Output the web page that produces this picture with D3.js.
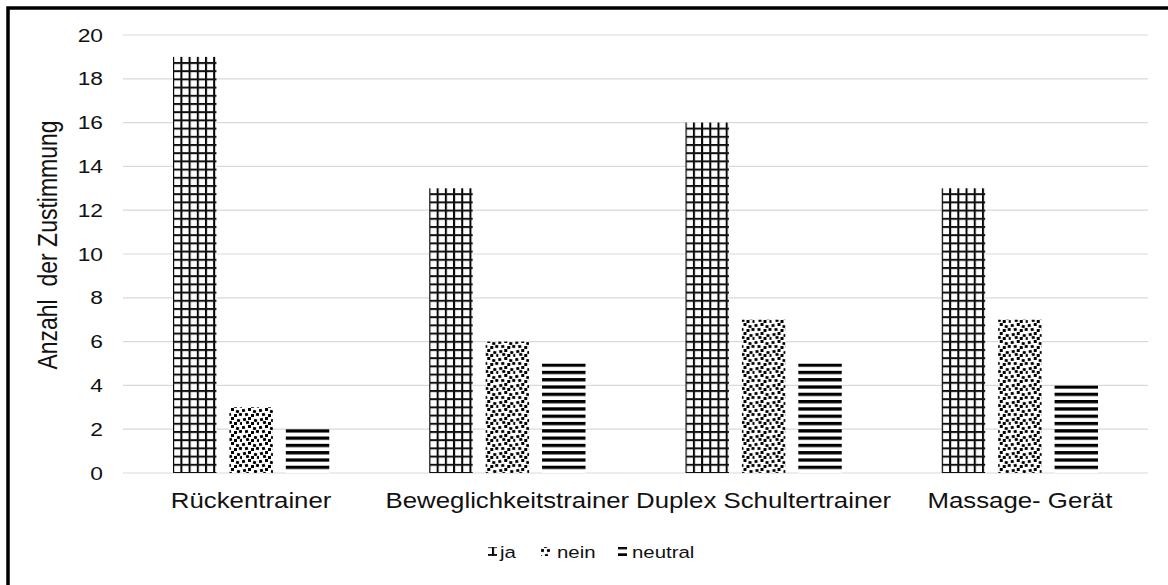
<!DOCTYPE html>
<html>
<head>
<meta charset="utf-8">
<script src="https://cdn.jsdelivr.net/npm/d3@7"></script>
<style>
  body { margin: 0; background: #fff; }
  text { font-family: "Liberation Sans", Arial, sans-serif; fill: #111; }
</style>
</head>
<body>
<svg id="chart" width="1168" height="585"></svg>
<script>
// chart data
const categories = ['Rückentrainer', 'Beweglichkeitstrainer', 'Duplex Schultertrainer', 'Massage- Gerät']
const series = ['ja', 'nein', 'neutral']
const ja = [19, 13, 16, 13]
const nein = [3, 6, 7, 7]
const neutral = [2, 5, 5, 4]
const yTicks = [0, 2, 4, 6, 8, 10, 12, 14, 16, 18, 20]

const values = { ja: ja, nein: nein, neutral: neutral }

const width = 1168
const height = 585
const margin = { top: 35, right: 20, bottom: 112, left: 123 }
const stretch = 'scale(1.2,1)'   // text in the shot is a little wide

const svg = d3.select('#chart')

// frame (only left and top edges are visible)
svg.append('path')
  .attr('d', 'M8,585 V8 H1168')
  .attr('fill', 'none')
  .attr('stroke', '#000')
  .attr('stroke-width', 3.5)

const x0 = d3.scaleBand()
  .domain(categories)
  .range([margin.left, width - margin.right])

const x1 = d3.scaleBand()
  .domain(series)
  .range([50, x0.bandwidth() - 50])
  .paddingInner(0.23)

const y = d3.scaleLinear()
  .domain([0, 20])
  .range([height - margin.bottom, margin.top])

const defs = svg.append('defs')

// grid pattern for "ja"
const pGrid = defs.append('pattern')
  .attr('id', 'p-ja')
  .attr('patternUnits', 'userSpaceOnUse')
  .attr('width', 8.2).attr('height', 8.2)
  .attr('y', y(0) - 1)
pGrid.append('rect').attr('width', 8.2).attr('height', 8.2).attr('fill', '#fff')
pGrid.append('rect').attr('x', 0).attr('width', 2).attr('height', 8.2).attr('fill', '#000')
pGrid.append('rect').attr('y', 0).attr('width', 8.2).attr('height', 2).attr('fill', '#111')

// dotted pattern for "nein"
const dots = [[0, 1], [6, 0], [11, 2], [3, 5], [9, 6], [14, 5], [1, 10], [6, 9], [12, 11], [4, 13], [9, 14], [15, 14]]
const pDots = defs.append('pattern')
  .attr('id', 'p-nein')
  .attr('patternUnits', 'userSpaceOnUse')
  .attr('width', 17).attr('height', 17)
pDots.append('rect').attr('width', 17).attr('height', 17).attr('fill', '#fff')
pDots.selectAll('rect.dot')
  .data(dots)
  .enter().append('rect')
  .attr('class', 'dot')
  .attr('x', d => d[0]).attr('y', d => d[1])
  .attr('width', 3).attr('height', 3)
  .attr('transform', (d, i) => 'rotate(' + (i % 3 - 1) * 15 + ',' + (d[0] + 1.5) + ',' + (d[1] + 1.5) + ')')
  .attr('fill', '#000')

// horizontal stripes for "neutral", six per two units so every bar top starts with a stripe
const stripe = (y(0) - y(2)) / 6
const pStripe = defs.append('pattern')
  .attr('id', 'p-neutral')
  .attr('patternUnits', 'userSpaceOnUse')
  .attr('width', 8).attr('height', stripe)
  .attr('y', y(0))
pStripe.append('rect').attr('width', 8).attr('height', stripe).attr('fill', '#fff')
pStripe.append('rect').attr('y', 0).attr('width', 8).attr('height', 3.3).attr('fill', '#000')

// gridlines
svg.append('g')
  .selectAll('line')
  .data(yTicks)
  .enter().append('line')
  .attr('x1', margin.left)
  .attr('x2', width - margin.right)
  .attr('y1', d => y(d))
  .attr('y2', d => y(d))
  .attr('stroke', '#d9d9d9')
  .attr('stroke-width', 1.2)

// y tick labels
const yAxis = svg.append('g')
  .attr('transform', 'translate(' + (margin.left - 20) + ',0)')
  .call(d3.axisLeft(y).tickValues(yTicks).tickSize(0).tickPadding(0))
yAxis.select('.domain').remove()
yAxis.selectAll('text')
  .attr('x', 0)
  .attr('transform', stretch)
  .style('font-family', '"Liberation Sans", Arial, sans-serif')
  .style('font-size', '19px')
  .attr('fill', '#111')

// x labels
const xAxis = svg.append('g')
  .attr('transform', 'translate(0,' + y(0) + ')')
  .call(d3.axisBottom(x0).tickSize(0))
xAxis.select('.domain').remove()
xAxis.selectAll('text')
  .attr('y', 35)
  .attr('dy', 0)
  .attr('transform', stretch)
  .style('font-family', '"Liberation Sans", Arial, sans-serif')
  .style('font-size', '21.5px')
  .attr('fill', '#111')

// bars
const groups = svg.append('g')
  .selectAll('g')
  .data(categories)
  .enter().append('g')
  .attr('transform', d => 'translate(' + x0(d) + ',0)')

groups.selectAll('rect')
  .data((d, i) => series.map(s => ({ key: s, value: values[s][i] })))
  .enter().append('rect')
  .attr('x', d => x1(d.key))
  .attr('width', x1.bandwidth())
  .attr('y', d => y(d.value))
  .attr('height', d => y(0) - y(d.value))
  .attr('fill', d => 'url(#p-' + d.key + ')')

// y axis title
svg.append('text')
  .attr('transform', 'translate(57,245) ' + stretch + ' rotate(-90)')
  .attr('text-anchor', 'middle')
  .style('font-size', '23px')
  .text('Anzahl\u00a0 der Zustimmung')

// legend
const legendMarkX = [488, 541, 618]
const legendTextX = [500, 557, 632]

const legend = svg.append('g')
  .selectAll('g')
  .data(series)
  .enter().append('g')

legend.append('rect')
  .attr('x', (d, i) => legendMarkX[i])
  .attr('y', 547)
  .attr('width', 9).attr('height', 9)
  .attr('fill', d => 'url(#p-' + d + ')')

legend.append('text')
  .attr('transform', (d, i) => 'translate(' + legendTextX[i] + ',558) ' + stretch)
  .style('font-size', '17px')
  .text(d => d)
</script>
</body>
</html>
